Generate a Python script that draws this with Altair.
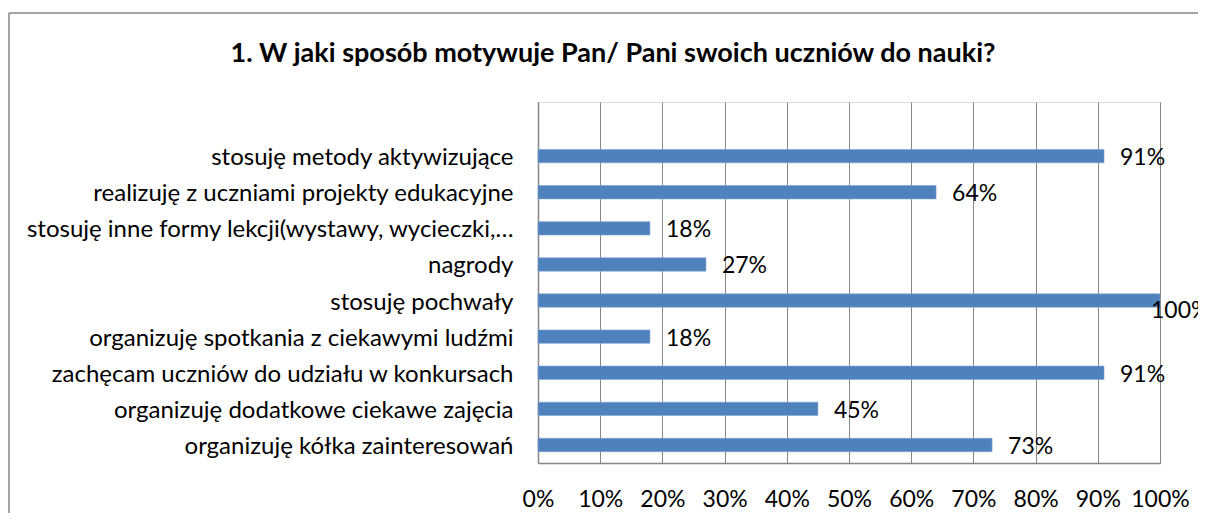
import altair as alt
import pandas as pd

categories = [
    "stosuję metody aktywizujące",
    "realizuję z uczniami projekty edukacyjne",
    "stosuję inne formy lekcji(wystawy, wycieczki,…",
    "nagrody",
    "stosuję pochwały",
    "organizuję spotkania z ciekawymi ludźmi",
    "zachęcam uczniów do udziału w konkursach",
    "organizuję dodatkowe ciekawe zajęcia",
    "organizuję kółka zainteresowań",
]
values = [91, 64, 18, 27, 100, 18, 91, 45, 73]
x_ticks = [0, 10, 20, 30, 40, 50, 60, 70, 80, 90, 100]
title_text = "1. W jaki sposób motywuje Pan/ Pani swoich uczniów do nauki?"

FONT = "Lato"
GRAY = "#868686"
BLUE = "#4F81BD"

df = pd.DataFrame({"cat": categories, "v": values})
y_domain = [" "] + categories

x_enc = alt.X(
    "v:Q",
    scale=alt.Scale(domain=[0, 100], nice=False),
    axis=alt.Axis(
        values=x_ticks, labelExpr="datum.value + '%'", title=None, ticks=False,
        grid=True, gridColor=GRAY, gridWidth=1, domainColor=GRAY, domainWidth=1.5,
        labelFont=FONT, labelFontSize=23, labelColor="#000000", labelPadding=25,
        labelFlush=False,
    ),
)
y_enc = alt.Y(
    "cat:N",
    scale=alt.Scale(domain=y_domain, paddingInner=0.63, paddingOuter=0.315),
    sort=None,
    axis=alt.Axis(
        title=None, ticks=False, grid=False, domainColor=GRAY, domainWidth=1.5,
        labelFont=FONT, labelFontSize=24, labelColor="#000000", labelPadding=25,
        labelLimit=800, labelBaseline="middle", labelOffset=2,
    ),
)

base = alt.Chart(df)
bars = base.mark_bar(color=BLUE, stroke="#7EA3D0", strokeWidth=0.6).encode(x=x_enc, y=y_enc)

lab = base.transform_calculate(lbl="datum.v + '%'")
text_normal = lab.transform_filter("datum.v < 100").mark_text(
    align="left", baseline="middle", dx=16, dy=2, font=FONT, fontSize=23, color="#000000"
).encode(x="v:Q", y=alt.Y("cat:N", sort=None), text="lbl:N")
text_full = lab.transform_filter("datum.v >= 100").mark_text(
    align="left", baseline="middle", dx=-9, dy=10, font=FONT, fontSize=23, color="#000000"
).encode(x="v:Q", y=alt.Y("cat:N", sort=None), text="lbl:N")

one = pd.DataFrame({"t": [title_text]})
title = alt.Chart(one).mark_text(
    align="center", baseline="alphabetic", font=FONT, fontSize=27, fontWeight="bold",
    color="#000000",
).encode(text="t:N", x=alt.value(75), y=alt.value(-40))

frame = pd.DataFrame({"a": [0]})
border_top = alt.Chart(frame).mark_rule(color=GRAY, strokeWidth=1.5).encode(
    x=alt.value(-529), x2=alt.value(900), y=alt.value(-89)
)
border_left = alt.Chart(frame).mark_rule(color=GRAY, strokeWidth=1.5).encode(
    x=alt.value(-529), y=alt.value(-89), y2=alt.value(700)
)

chart = alt.layer(border_top, border_left, title, bars, text_normal, text_full).properties(
    width=622,
    height=361,
    padding={"left": 530, "top": 94, "right": 38, "bottom": 50},
    autosize="none",
).configure_view(stroke=None).configure(background="white")

chart.save("out.html", embed_options={"renderer": "svg", "actions": False})
